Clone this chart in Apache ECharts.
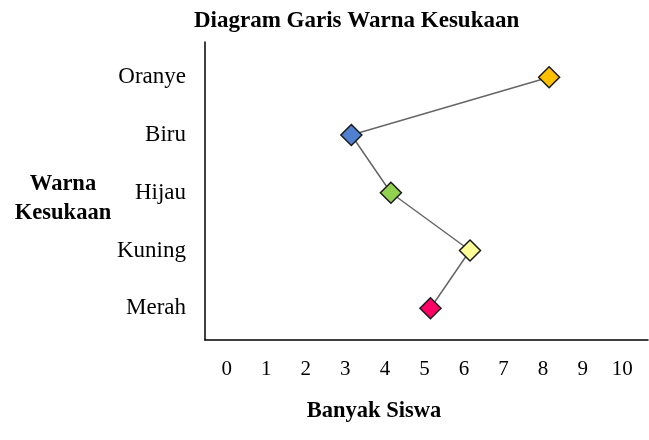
<!DOCTYPE html>
<html>
<head>
<meta charset="utf-8">
<script src="https://cdn.jsdelivr.net/npm/echarts@6/dist/echarts.min.js"></script>
<style>html,body{margin:0;padding:0;background:#fff}#c{width:649px;height:440px}</style>
</head>
<body>
<div id="c"></div>
<script>
var categories = ['Merah', 'Kuning', 'Hijau', 'Biru', 'Oranye'];
var values = [5, 6, 4, 3, 8];
var colors = ['#FF0066', '#FFFF99', '#92D050', '#4F81D0', '#FFC000'];
var xTicks = [0, 1, 2, 3, 4, 5, 6, 7, 8, 9, 10];
var titleText = 'Diagram Garis Warna Kesukaan';
var xName = 'Banyak Siswa';
var yName = 'Warna\nKesukaan';

var serif = '"Liberation Serif", "Times New Roman", serif';
var data = [];
for (var i = categories.length - 1; i >= 0; i--) {
  data.push({ value: [values[i], i], itemStyle: { color: colors[i] } });
}

var chart = echarts.init(document.getElementById('c'));
chart.setOption({
  animation: false,
  backgroundColor: '#fff',
  title: {
    text: titleText, left: 194, top: 10, padding: 0,
    textStyle: { fontFamily: serif, fontWeight: 'bold', fontSize: 23, color: '#000' }
  },
  grid: { left: 205, right: 1, top: 42, bottom: 100 },
  xAxis: {
    type: 'value', min: -0.7, max: 10.5,
    axisLine: { show: true, onZero: false, lineStyle: { color: '#000', width: 1.5 } },
    axisTick: { show: false },
    splitLine: { show: false },
    axisLabel: { customValues: xTicks, margin: 19, padding: [0, 12, 0, 0], fontFamily: serif, fontSize: 21, color: '#000' }
  },
  yAxis: {
    type: 'value', min: -0.55, max: 4.61,
    axisLine: { show: true, onZero: false, lineStyle: { color: '#000', width: 1.5 } },
    axisTick: { show: false },
    splitLine: { show: false },
    axisLabel: {
      customValues: [0, 1, 2, 3, 4], margin: 19, fontFamily: serif, fontSize: 23, color: '#000',
      formatter: function (v) { return categories[v]; }
    }
  },
  graphic: [
    { type: 'text', x: 374, y: 411, style: { text: xName, align: 'center', verticalAlign: 'middle', font: 'bold 22.5px ' + serif, fill: '#000' } },
    { type: 'text', x: 63, y: 199, style: { text: yName, align: 'center', verticalAlign: 'middle', font: 'bold 22.5px ' + serif, lineHeight: 29, fill: '#000' } }
  ],
  series: [{
    type: 'line',
    data: data,
    symbol: 'diamond',
    symbolSize: 21,
    lineStyle: { color: '#666', width: 1.5 },
    itemStyle: { borderColor: '#1a1a1a', borderWidth: 1.5 },
    z: 3
  }]
});
</script>
</body>
</html>
